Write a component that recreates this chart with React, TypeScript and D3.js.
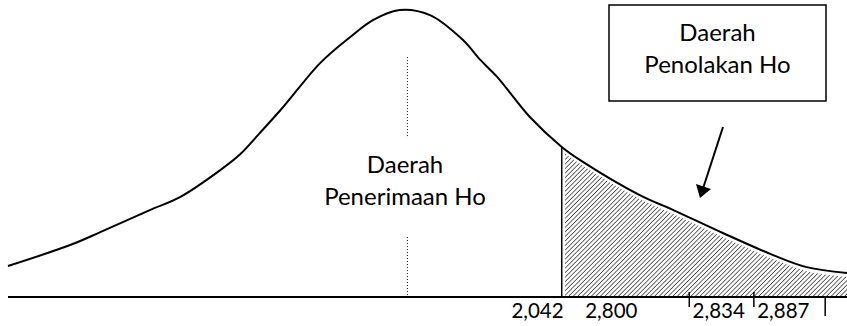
import React from "react";
import * as d3 from "d3";

// Curve (distribution shape) in abstract units: x 0..100, density 0..100
const curveX = [0, 7.4, 11, 16.9, 20.5, 25.3, 27.7, 30, 32.8, 37.2, 40.8, 43.5, 46.7, 50.3, 54.2, 56.3, 58.3, 62.2, 66, 68.2, 75.3, 79.3, 85.2, 91.2, 95.2, 100];
const curveY = [10.8, 18.1, 22.6, 30.3, 34.8, 44.2, 49.8, 57.1, 66.2, 81.5, 90.6, 96.5, 100, 98.2, 89.6, 82.6, 76.7, 62.7, 52.3, 47.7, 35.5, 30.3, 22.3, 14.6, 10.4, 8.4];

const criticalX = 66; // 2,042 boundary
const meanX = 47.6;
const tickMarks = [81.2, 88.9];
const lastTick = 97.4;
const tickLabels = ["2,042", "2,800", "2,834", "2,887"];
const tickLabelX = [60.0, 68.8, 81.6, 89.3];

const acceptLabel = ["Daerah", "Penerimaan Ho"];
const rejectLabel = ["Daerah", "Penolakan Ho"];

const W = 847;
const H = 326;

export default function App() {
  const x = d3.scaleLinear().domain([0, 100]).range([8, 847]);
  const y = d3.scaleLinear().domain([0, 100]).range([297, 10]);
  const pts = curveX.map((v, i) => [v, curveY[i]] as [number, number]);

  const line = d3
    .line<[number, number]>()
    .x((d) => x(d[0]))
    .y((d) => y(d[1]))
    .curve(d3.curveCatmullRom.alpha(0.5));

  const interp = (xv: number) => {
    for (let i = 0; i < pts.length - 1; i++) {
      if (xv >= pts[i][0] && xv <= pts[i + 1][0]) {
        const t = (xv - pts[i][0]) / (pts[i + 1][0] - pts[i][0]);
        return pts[i][1] + t * (pts[i + 1][1] - pts[i][1]);
      }
    }
    return 0;
  };

  const tail = pts.filter((p) => p[0] >= criticalX);
  const hatchStart: [number, number] = [criticalX + 0.4, interp(criticalX + 0.4)];
  const tailPts = [hatchStart, ...tail.filter((p) => p[0] > hatchStart[0])];
  const area = d3
    .area<[number, number]>()
    .x((d) => x(d[0]))
    .y0(y(0))
    .y1((d) => y(d[1]) + 4)
    .curve(d3.curveCatmullRom.alpha(0.5));

  const fontFamily = "Lato, 'Noto Sans', sans-serif";

  return (
    <svg
      width={W}
      height={H}
      style={{ position: "absolute", left: 0, top: 0, background: "#fff" }}
    >
      <defs>
        <pattern
          id="hatch"
          patternUnits="userSpaceOnUse"
          width={3.2}
          height={3.2}
          patternTransform="rotate(45)"
        >
          <rect width={3.2} height={3.2} fill="#fff" />
          <line x1={0} y1={0} x2={0} y2={3.2} stroke="#444" strokeWidth={1.6} />
        </pattern>
      </defs>

      {/* hatched rejection region */}
      <path d={area(tailPts) || ""} fill="url(#hatch)" />

      {/* curve */}
      <path d={line(pts) || ""} fill="none" stroke="#000" strokeWidth={2} />

      {/* baseline */}
      <line x1={x(0)} x2={x(100)} y1={y(0)} y2={y(0)} stroke="#000" strokeWidth={1.8} />

      {/* critical value line */}
      <line
        x1={x(criticalX)}
        x2={x(criticalX)}
        y1={y(0)}
        y2={y(interp(criticalX))}
        stroke="#000"
        strokeWidth={1.5}
      />

      {/* dotted mean line */}
      <line x1={x(meanX)} x2={x(meanX)} y1={y(83.6)} y2={y(55.4)} stroke="#000" strokeWidth={1} strokeDasharray="1,2" />
      <line x1={x(meanX)} x2={x(meanX)} y1={y(20.9)} y2={y(0)} stroke="#000" strokeWidth={1} strokeDasharray="1,2" />

      {/* tick marks */}
      {tickMarks.map((t, i) => (
        <line key={i} x1={x(t)} x2={x(t)} y1={y(0) - 5} y2={y(0) + 10} stroke="#000" strokeWidth={1.5} />
      ))}
      <line x1={x(lastTick)} x2={x(lastTick)} y1={y(0)} y2={y(0) + 19} stroke="#000" strokeWidth={1.5} />

      {/* tick labels */}
      {tickLabels.map((t, i) => (
        <text key={t} x={x(tickLabelX[i])} y={318} fontFamily={fontFamily} fontSize={20.5} fill="#000">
          {t}
        </text>
      ))}

      {/* acceptance label */}
      {acceptLabel.map((t, i) => (
        <text key={t} x={405} y={173 + i * 32} textAnchor="middle" fontFamily={fontFamily} fontSize={24} fill="#000">
          {t}
        </text>
      ))}

      {/* rejection box */}
      <rect x={609} y={5} width={217} height={96} fill="#fff" stroke="#000" strokeWidth={1.5} />
      {rejectLabel.map((t, i) => (
        <text key={t} x={717.5} y={41 + i * 32} textAnchor="middle" fontFamily={fontFamily} fontSize={24} fill="#000">
          {t}
        </text>
      ))}

      {/* arrow */}
      <line x1={723} y1={127} x2={703.5} y2={187} stroke="#000" strokeWidth={2} />
      <path d="M700,198 L696,184 L711,189 Z" fill="#000" />
    </svg>
  );
}
